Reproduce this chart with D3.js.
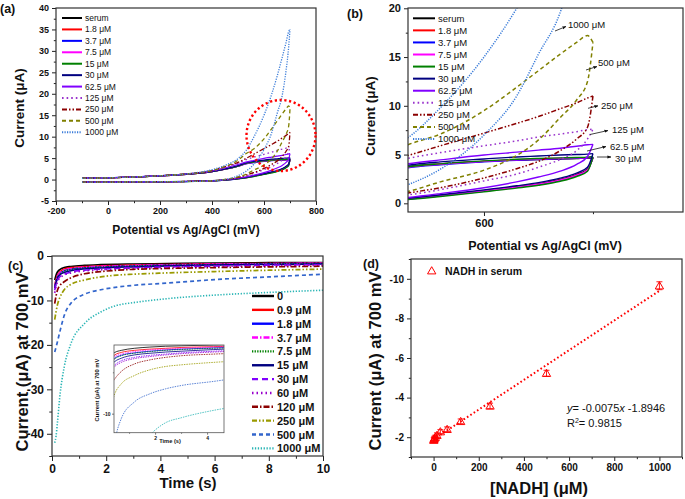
<!DOCTYPE html>
<html><head><meta charset="utf-8">
<script src="https://cdn.jsdelivr.net/npm/d3@7"></script>
<style>
body{margin:0;background:#fff}
svg{font-family:"Liberation Sans",Arial,Helvetica,sans-serif;display:block}
</style></head><body>
<svg id="chart" width="685" height="499"></svg>
<script>
// ---------- DATA ----------
// (a)/(b) cyclic voltammograms: potential grid (mV) and currents (µA) on the two branches
const potentials = [-100,0,100,200,300,400,450,500,530,560,600,630,650,670,685,695,700];
const cvNames = ["serum","1.8 μM","3.7 μM","7.5 μM","15 μM","30 μM","62.5 μM","125 μM","250 μM","500 μM","1000 μM"];
const serumUp    = [0.30,0.40,0.60,0.85,1.20,1.85,2.40,3.10,3.75,4.05,4.30,4.45,4.50,4.55,4.60,4.65,4.65];
const serumDown  = [-0.60,-0.60,-0.55,-0.50,-0.45,-0.30,-0.10,0.20,0.45,0.80,1.30,1.70,2.00,2.45,2.95,3.50,4.65];
const uM1_8Up    = [0.30,0.40,0.60,0.85,1.20,1.85,2.40,3.10,3.70,4.00,4.30,4.45,4.52,4.58,4.62,4.66,4.70];
const uM1_8Down  = [-0.60,-0.60,-0.55,-0.50,-0.45,-0.30,-0.10,0.20,0.45,0.80,1.28,1.68,1.98,2.40,2.90,3.45,4.70];
const uM3_7Up    = [0.30,0.40,0.60,0.85,1.20,1.85,2.40,3.10,3.65,3.95,4.25,4.42,4.50,4.56,4.62,4.66,4.72];
const uM3_7Down  = [-0.62,-0.62,-0.57,-0.52,-0.47,-0.32,-0.12,0.18,0.42,0.76,1.24,1.64,1.94,2.36,2.85,3.40,4.72];
const uM7_5Up    = [0.30,0.40,0.60,0.85,1.20,1.85,2.40,3.10,3.70,4.00,4.30,4.47,4.55,4.62,4.66,4.70,4.75];
const uM7_5Down  = [-0.60,-0.60,-0.55,-0.50,-0.45,-0.30,-0.10,0.20,0.44,0.78,1.27,1.66,1.96,2.38,2.88,3.42,4.75];
const uM15Up     = [0.30,0.40,0.60,0.85,1.20,1.85,2.40,3.10,3.75,4.05,4.35,4.52,4.60,4.66,4.70,4.74,4.78];
const uM15Down   = [-0.62,-0.62,-0.57,-0.52,-0.48,-0.33,-0.14,0.14,0.38,0.70,1.18,1.56,1.85,2.26,2.75,3.30,4.78];
const uM30Up     = [0.32,0.42,0.62,0.88,1.25,1.90,2.50,3.25,3.90,4.25,4.55,4.75,4.85,4.95,5.00,5.05,5.10];
const uM30Down   = [-0.58,-0.58,-0.53,-0.48,-0.42,-0.27,-0.06,0.25,0.52,0.88,1.38,1.80,2.12,2.58,3.10,3.70,5.10];
const uM62Up     = [0.32,0.42,0.62,0.90,1.30,2.00,2.70,3.50,4.05,4.45,4.95,5.25,5.45,5.65,5.85,6.00,6.05];
const uM62Down   = [-0.60,-0.60,-0.55,-0.50,-0.45,-0.30,-0.05,0.30,0.60,1.00,1.60,2.20,2.70,3.30,4.00,4.80,6.05];
const uM125Up    = [0.30,0.40,0.60,0.90,1.30,2.00,2.80,3.80,4.60,5.20,5.90,6.40,6.80,7.10,7.35,7.55,7.60];
const uM125Down  = [-0.60,-0.60,-0.55,-0.50,-0.45,-0.30,0.00,0.40,0.85,1.40,2.30,3.00,3.70,4.50,5.40,6.60,7.60];
const uM250Up    = [0.30,0.40,0.60,0.90,1.30,2.10,3.00,4.00,4.90,5.90,7.20,8.20,8.90,9.70,10.30,10.80,11.00];
const uM250Down  = [-0.60,-0.60,-0.55,-0.50,-0.45,-0.30,0.00,0.50,1.05,1.60,2.60,3.55,4.30,5.40,6.60,7.80,11.00];
const uM500Up    = [0.30,0.40,0.60,0.90,1.30,2.10,3.00,4.50,6.00,7.10,9.50,11.90,13.60,15.30,16.50,17.20,16.50];
const uM500Down  = [-0.60,-0.60,-0.55,-0.50,-0.45,-0.30,0.05,0.60,1.20,2.20,3.40,4.90,6.50,8.80,10.60,12.50,16.50];
const uM1000Up   = [0.30,0.40,0.60,0.90,1.30,2.30,3.30,4.90,6.70,9.80,15.00,20.00,24.00,28.50,32.00,34.50,35.00];
const uM1000Down = [-0.60,-0.60,-0.55,-0.50,-0.45,-0.30,0.00,0.90,1.90,3.50,7.00,11.00,15.30,19.60,25.50,31.00,35.00];

// (b) annotation labels
const bAnnot = ["1000 μM","500 μM","250 μM","125 μM","62.5 μM","30 μM"];

// (c) chronoamperometry: time (s) and current (µA)
const times = [0.1,0.15,0.2,0.3,0.45,0.7,1.2,1.8,2.4,3,4.25,6,8,10];
const caNames = ["0","0.9 μM","1.8 μM","3.7 μM","7.5 μM","15 μM","30 μM","60 μM","120 μM","250 μM","500 μM","1000 μM"];
const ca0    = [-5.4,-4.3,-3.6,-3.0,-2.6,-2.35,-2.1,-1.95,-1.85,-1.8,-1.7,-1.6,-1.5,-1.45];
const ca0_9  = [-6.5,-5.2,-4.3,-3.5,-2.9,-2.6,-2.35,-2.2,-2.1,-2.0,-1.9,-1.75,-1.65,-1.55];
const ca1_8  = [-6.8,-5.6,-4.7,-3.8,-3.3,-2.95,-2.65,-2.45,-2.3,-2.2,-2.05,-1.9,-1.75,-1.65];
const ca3_7  = [-7.0,-5.6,-4.6,-3.7,-3.1,-2.8,-2.5,-2.3,-2.2,-2.1,-1.95,-1.8,-1.7,-1.6];
const ca7_5  = [-7.3,-5.9,-4.9,-4.0,-3.4,-3.0,-2.7,-2.5,-2.35,-2.25,-2.1,-1.95,-1.8,-1.7];
const ca15   = [-7.2,-6.0,-5.1,-4.2,-3.7,-3.3,-2.9,-2.7,-2.55,-2.45,-2.25,-2.05,-1.9,-1.8];
const ca30   = [-7.7,-6.4,-5.5,-4.6,-4.1,-3.6,-3.2,-2.95,-2.8,-2.65,-2.45,-2.25,-2.05,-1.95];
const ca60   = [-8.3,-6.9,-5.8,-4.9,-4.3,-3.8,-3.35,-3.1,-2.9,-2.75,-2.55,-2.35,-2.2,-2.05];
const ca120  = [-10.7,-9.0,-7.7,-6.6,-5.8,-4.9,-4.0,-3.5,-3.2,-3.0,-2.8,-2.6,-2.45,-2.3];
const ca250  = [-14.3,-12.5,-11.0,-9.2,-7.6,-6.4,-5.4,-4.7,-4.3,-4.1,-3.8,-3.5,-3.2,-2.95];
const ca500  = [-21.6,-20.5,-19.3,-16.8,-13.4,-10.6,-8.6,-7.6,-7.0,-6.6,-6.1,-5.3,-4.7,-4.1];
const ca1000 = [-42,-40.5,-37.5,-31,-25,-19.7,-15.2,-12.6,-11.1,-10.5,-9.6,-8.8,-8.2,-7.7];

// (d) calibration
const nadhConc    = [0.9,1.8,3.7,7.5,15,30,60,120,250,500,1000];
const nadhCurrent = [-1.85,-1.9,-1.95,-2.0,-2.1,-2.28,-2.4,-2.8,-3.58,-5.23,-9.65];
const nadhError   = [0.12,0.1,0.1,0.1,0.12,0.1,0.12,0.12,0.14,0.15,0.2];
const fitX = [0,1000];
const fitY = [-1.8946,-9.3946];

// ---------- STYLES ----------
const FONT = '"Liberation Sans", Arial, Helvetica, sans-serif';
const cvStyle = [
  {c:"#000000",d:null},{c:"#ff0000",d:null},{c:"#0000ff",d:null},{c:"#ff00ff",d:null},
  {c:"#008000",d:null},{c:"#000080",d:null},{c:"#8000ff",d:null},
  {c:"#9932cc",d:"1.6,3"},{c:"#8b0000",d:"5,2,1.5,2,1.5,2"},{c:"#808000",d:"4,3"},{c:"#3c7dd9",d:"1.2,1.3"}
];
const caStyle = [
  {c:"#000000",d:null,w:1.6},{c:"#ff0000",d:null,w:1.4},{c:"#0000ff",d:null,w:1.4},{c:"#ff00ff",d:"6,2,1.5,2",w:1.4},
  {c:"#008000",d:"1.3,1.3",w:1.6},{c:"#000080",d:null,w:1.5},{c:"#8000ff",d:"6,4",w:1.6},{c:"#9900cc",d:"1.5,3",w:1.8},
  {c:"#8b0000",d:"6,2,1.5,2",w:1.7},{c:"#9a9a00",d:"5,2,1.5,2,1.5,2",w:1.7},{c:"#3366cc",d:"4,3",w:1.7},{c:"#2ab5b5",d:"1.3,1.6",w:1.6}
];

const cvUp = [serumUp,uM1_8Up,uM3_7Up,uM7_5Up,uM15Up,uM30Up,uM62Up,uM125Up,uM250Up,uM500Up,uM1000Up];
const cvDown = [serumDown,uM1_8Down,uM3_7Down,uM7_5Down,uM15Down,uM30Down,uM62Down,uM125Down,uM250Down,uM500Down,uM1000Down];
const caSeries = [ca0,ca0_9,ca1_8,ca3_7,ca7_5,ca15,ca30,ca60,ca120,ca250,ca500,ca1000];

// ---------- DRAW ----------
const svg = d3.select("#chart");
svg.append("rect").attr("width",685).attr("height",499).attr("fill","#fff");
const defs = svg.append("defs");
defs.append("marker").attr("id","arr").attr("viewBox","0 0 10 10").attr("refX",9).attr("refY",5)
  .attr("markerWidth",5).attr("markerHeight",5).attr("orient","auto")
  .append("path").attr("d","M0,1 L10,5 L0,9 z").attr("fill","#111");

function clip(id,p){
  defs.append("clipPath").attr("id",id).append("rect")
    .attr("x",p.x0).attr("y",p.y0).attr("width",p.x1-p.x0).attr("height",p.y1-p.y0);
}
function axes(p,xs,ys,o){
  const g = svg.append("g");
  const fmt = d => String(d);
  const inX = v => v>=Math.min(...xs.domain()) && v<=Math.max(...xs.domain());
  const inY = v => v>=Math.min(...ys.domain()) && v<=Math.max(...ys.domain());
  g.append("g").attr("transform",`translate(0,${p.y1})`)
    .call(d3.axisBottom(xs).tickValues(o.xMajor.filter(inX)).tickSize(o.ts).tickPadding(o.tp).tickFormat(fmt));
  g.append("g").attr("transform",`translate(0,${p.y1})`)
    .call(d3.axisBottom(xs).tickValues(o.xMinor.filter(inX)).tickSize(o.ts*0.55).tickFormat(""));
  g.append("g").attr("transform",`translate(${p.x0},0)`)
    .call(d3.axisLeft(ys).tickValues(o.yMajor.filter(inY)).tickSize(o.ts).tickPadding(o.tp).tickFormat(fmt));
  g.append("g").attr("transform",`translate(${p.x0},0)`)
    .call(d3.axisLeft(ys).tickValues(o.yMinor.filter(inY)).tickSize(o.ts*0.55).tickFormat(""));
  g.selectAll(".domain").remove();
  g.selectAll(".tick line").attr("stroke","#222").attr("stroke-width",o.tw||1);
  g.selectAll(".tick text").attr("font-family",FONT).attr("font-weight","bold")
    .attr("font-size",o.fs).attr("fill","#111");
  g.append("rect").attr("x",p.x0).attr("y",p.y0).attr("width",p.x1-p.x0).attr("height",p.y1-p.y0)
    .attr("fill","none").attr("stroke",o.fc||"#333").attr("stroke-width",o.fw||1.2);
  return g;
}
function text(x,y,s,size,opt={}){
  const t = svg.append("text").attr("x",x).attr("y",y).attr("font-family",FONT)
    .attr("font-size",size).attr("font-weight",opt.bold===false?"normal":"bold")
    .attr("text-anchor",opt.anchor||"start").attr("fill",opt.fill||"#111");
  if(opt.rot) t.attr("transform",`rotate(-90,${x},${y})`);
  if(opt.italic) t.attr("font-style","italic");
  t.text(s);
  return t;
}
function range(a,b,s){const r=[];for(let v=a;v<=b+1e-9;v+=s)r.push(+v.toFixed(6));return r;}

// ===== Panel (a) =====
const pA = {x0:56,x1:316,y0:8,y1:201};
const xA = d3.scaleLinear().domain([-200,800]).range([pA.x0,pA.x1]);
const yA = d3.scaleLinear().domain([-5,40]).range([pA.y1,pA.y0]);
clip("clipA",pA);
const gA = svg.append("g").attr("clip-path","url(#clipA)");
const lineA = d3.line().x((d,i)=>xA(potentials[i])).y(d=>yA(d)).curve(d3.curveMonotoneX);
cvNames.forEach((n,k)=>{
  [cvUp[k],cvDown[k]].forEach(arr=>{
    gA.append("path").attr("d",lineA(arr)).attr("fill","none").attr("stroke",cvStyle[k].c)
      .attr("stroke-width",k>=7?1.3:1.2).attr("stroke-dasharray",cvStyle[k].d);
  });
});
axes(pA,xA,yA,{xMajor:range(-200,800,200),xMinor:range(-100,700,200),yMajor:range(-5,40,5),
  yMinor:range(-2.5,37.5,5),ts:4,tp:3,fs:9});
// red dotted circle
svg.append("ellipse").attr("cx",281).attr("cy",135.5).attr("rx",34.5).attr("ry",35.5)
  .attr("fill","none").attr("stroke","#ff0000").attr("stroke-width",2.4).attr("stroke-dasharray","2.2,2.6");
// legend a
cvNames.forEach((n,k)=>{
  const y = 18 + k*11.43;
  svg.append("line").attr("x1",62).attr("x2",82).attr("y1",y).attr("y2",y).attr("stroke",cvStyle[k].c)
    .attr("stroke-width",2).attr("stroke-dasharray",cvStyle[k].d);
  text(85,y+3,n,8.5,{bold:false});
});
text(186,234,"Potential vs Ag/AgCl (mV)",12,{anchor:"middle"});
text(24,108,"Current (μA)",13.5,{anchor:"middle",rot:true});
text(0,13,"(a)",12.5);

// ===== Panel (b) =====
const pB = {x0:408,x1:683,y0:8,y1:212};
const xB = d3.scaleLinear().domain([530.3,782.6]).range([pB.x0,pB.x1]);
const yB = d3.scaleLinear().domain([-0.89,20.03]).range([pB.y1,pB.y0]);
clip("clipB",pB);
const gB = svg.append("g").attr("clip-path","url(#clipB)");
const lineB = d3.line().x((d,i)=>xB(potentials[i])).y(d=>yB(d)).curve(d3.curveMonotoneX);
cvNames.forEach((n,k)=>{
  [cvUp[k],cvDown[k]].forEach(arr=>{
    gB.append("path").attr("d",lineB(arr)).attr("fill","none").attr("stroke",cvStyle[k].c)
      .attr("stroke-width",k>=7?1.5:1.4).attr("stroke-dasharray",cvStyle[k].d);
  });
});
axes(pB,xB,yB,{xMajor:[600,800],xMinor:[500,700],yMajor:range(0,20,5),yMinor:range(2.5,17.5,5),ts:4,tp:3,fs:11});
cvNames.forEach((n,k)=>{
  const y = 18.3 + k*12.07;
  svg.append("line").attr("x1",413).attr("x2",435).attr("y1",y).attr("y2",y).attr("stroke",cvStyle[k].c)
    .attr("stroke-width",2).attr("stroke-dasharray",cvStyle[k].d);
  text(438,y+3.3,n,9.5,{bold:false});
});
// annotations with arrows
const bArrows = [[555,31,566,26.5,568,28],[586,70,597,66.5,598,66],[588,108.3,598,105.8,601,108.5],
  [590,134.5,608,130.5,612,132.5],[587,151,606,146.5,610,149.5],[597,157,611,157,615,162]];
bAnnot.forEach((s,i)=>{
  const a = bArrows[i];
  svg.append("line").attr("x1",a[0]).attr("y1",a[1]).attr("x2",a[2]).attr("y2",a[3])
    .attr("stroke","#111").attr("stroke-width",0.8).attr("marker-end","url(#arr)");
  text(a[4],a[5],s,9.5,{bold:false});
});
text(545,250,"Potential vs Ag/AgCl (mV)",12.5,{anchor:"middle"});
text(375,116,"Current (μA)",13.5,{anchor:"middle",rot:true});
text(347,18,"(b)",12.5);

// ===== Panel (c) =====
const pC = {x0:52,x1:323,y0:256,y1:456};
const xC = d3.scaleLinear().domain([0,10]).range([pC.x0,pC.x1]);
const yC = d3.scaleLinear().domain([-45,0]).range([pC.y1,pC.y0]);
clip("clipC",pC);
const gC = svg.append("g").attr("clip-path","url(#clipC)");
const lineC = d3.line().x((d,i)=>xC(times[i])).y(d=>yC(d)).curve(d3.curveMonotoneX);
caSeries.forEach((arr,k)=>{
  gC.append("path").attr("d",lineC(arr)).attr("fill","none").attr("stroke",caStyle[k].c)
    .attr("stroke-width",caStyle[k].w).attr("stroke-dasharray",caStyle[k].d);
});
axes(pC,xC,yC,{xMajor:range(0,10,2),xMinor:range(1,9,2),yMajor:range(-40,0,10),yMinor:range(-45,-5,10),ts:5,tp:3,fs:12});
// inset
const pI = {x0:114,x1:224,y0:345,y1:432.7};
svg.append("rect").attr("x",pI.x0).attr("y",pI.y0).attr("width",pI.x1-pI.x0).attr("height",pI.y1-pI.y0).attr("fill","#fff");
const xI = d3.scaleLinear().domain([0.42,4.65]).range([pI.x0,pI.x1]);
const yI = d3.scaleLinear().domain([-12.3,-1.7]).range([pI.y1,pI.y0]);
clip("clipI",pI);
const gI = svg.append("g").attr("clip-path","url(#clipI)");
const lineI = d3.line().x((d,i)=>xI(times[i])).y(d=>yI(d)).curve(d3.curveMonotoneX);
caSeries.forEach((arr,k)=>{
  gI.append("path").attr("d",lineI(arr)).attr("fill","none").attr("stroke",caStyle[k].c)
    .attr("stroke-width",0.8).attr("stroke-dasharray",caStyle[k].d?"1.5,1":null);
});
axes(pI,xI,yI,{xMajor:[2,4],xMinor:[1,3],yMajor:[-10],yMinor:[-5],ts:2,tp:1.5,fs:5,fw:0.8,fc:"#555",tw:0.6});
text(170,443,"Time (s)",5.7,{anchor:"middle"});
text(99,390,"Current (μA) at 700 mV",5.8,{anchor:"middle",rot:true});
// legend c
caNames.forEach((n,k)=>{
  const y = 296 + k*13.85;
  svg.append("line").attr("x1",252).attr("x2",274).attr("y1",y).attr("y2",y).attr("stroke",caStyle[k].c)
    .attr("stroke-width",2.4).attr("stroke-dasharray",caStyle[k].d);
  text(277,y+4,n,11);
});
text(188,488,"Time (s)",15,{anchor:"middle"});
text(28,362,"Current (μA) at 700 mV",16.5,{anchor:"middle",rot:true});
text(8,270,"(c)",12.5);

// ===== Panel (d) =====
const pD = {x0:411,x1:682,y0:259,y1:457};
const xD = d3.scaleLinear().domain([-100,1100]).range([pD.x0,pD.x1]);
const yD = d3.scaleLinear().domain([-1,-11]).range([pD.y1,pD.y0]);
axes(pD,xD,yD,{xMajor:range(0,1000,200),xMinor:range(-100,1100,200),yMajor:range(-10,-2,2),yMinor:range(-11,-1,2),ts:4,tp:3,fs:10});
svg.append("path").attr("d",d3.line().x((d,i)=>xD(fitX[i])).y(d=>yD(d))(fitY))
  .attr("fill","none").attr("stroke","#ff0000").attr("stroke-width",2).attr("stroke-dasharray","1.6,2.4");
const tri = d3.symbol(d3.symbolTriangle).size(30);
nadhConc.forEach((c,i)=>{
  const x = xD(c), y = yD(nadhCurrent[i]);
  const y1 = yD(nadhCurrent[i]-nadhError[i]), y2 = yD(nadhCurrent[i]+nadhError[i]);
  svg.append("line").attr("x1",x).attr("x2",x).attr("y1",y1).attr("y2",y2).attr("stroke","#ff0000").attr("stroke-width",0.9);
  [y1,y2].forEach(yy=>svg.append("line").attr("x1",x-3).attr("x2",x+3).attr("y1",yy).attr("y2",yy).attr("stroke","#ff0000").attr("stroke-width",0.9));
  svg.append("path").attr("d",tri()).attr("transform",`translate(${x},${y+0.8})`)
    .attr("fill","none").attr("stroke","#ff0000").attr("stroke-width",1);
});
svg.append("path").attr("d",tri()).attr("transform","translate(431.7,271.5)")
  .attr("fill","none").attr("stroke","#ff0000").attr("stroke-width",1);
text(445,274.5,"NADH in serum",10.5);
const eq = svg.append("text").attr("x",567).attr("y",412).attr("font-family",FONT).attr("font-size",11).attr("fill","#111");
eq.append("tspan").attr("font-style","italic").text("y");
eq.append("tspan").text("= -0.0075");
eq.append("tspan").attr("font-style","italic").text("x");
eq.append("tspan").text(" -1.8946");
const r2 = svg.append("text").attr("x",567).attr("y",427).attr("font-family",FONT).attr("font-size",11).attr("fill","#111");
r2.append("tspan").text("R");
r2.append("tspan").attr("dy",-4).attr("font-size",7).text("2");
r2.append("tspan").attr("dy",4).text("= 0.9815");
text(539,494,"[NADH] (μM)",16.5,{anchor:"middle"});
text(381,361,"Current (μA) at 700 mV",16.5,{anchor:"middle",rot:true});
text(363,268,"(d)",12.5);
</script>
</body></html>
